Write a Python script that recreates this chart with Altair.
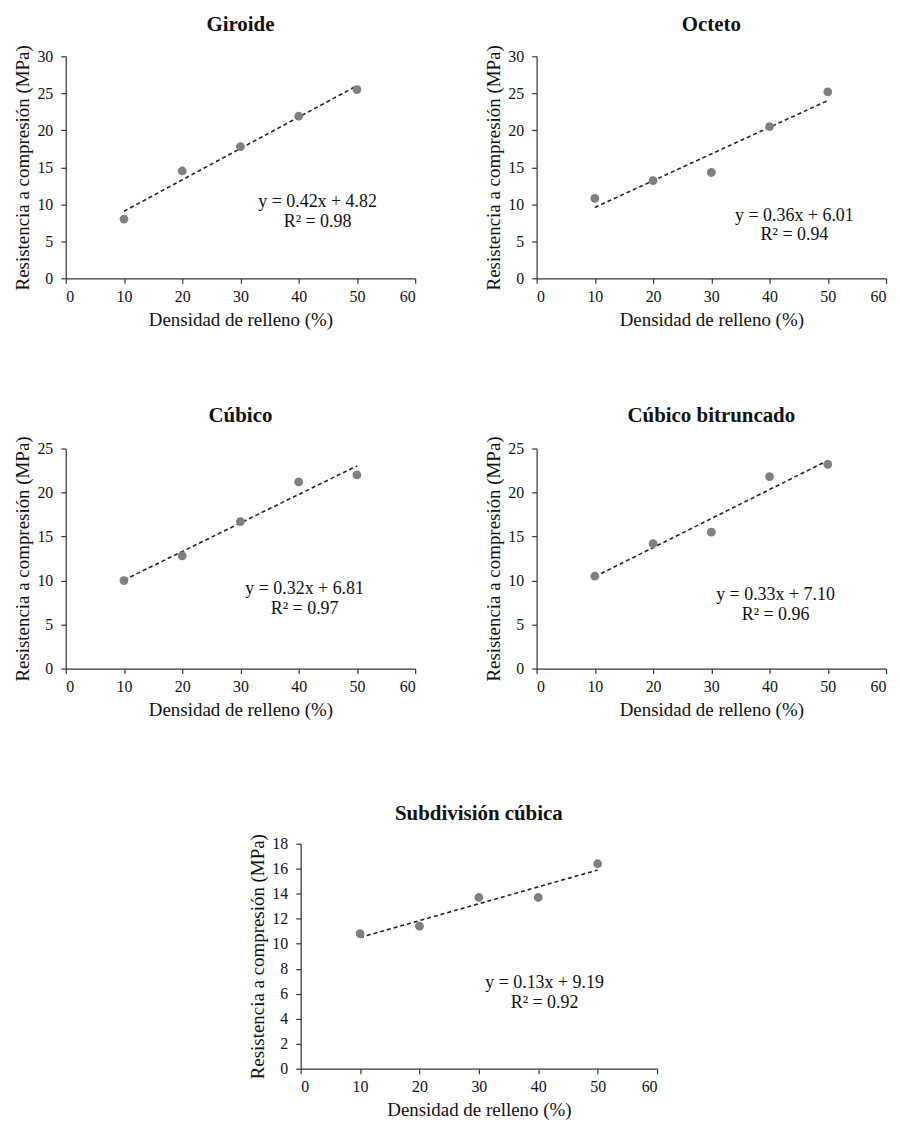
import altair as alt
import pandas as pd

# ---- data ----
density = [10, 20, 30, 40, 50]
giroide = [8.0, 14.5, 17.8, 21.9, 25.5]
octeto = [10.8, 13.2, 14.3, 20.5, 25.2]
cubico = [10.0, 12.8, 16.7, 21.2, 22.0]
bitruncado = [10.5, 14.2, 15.5, 21.8, 23.2]
subdivision = [10.8, 11.4, 13.7, 13.7, 16.4]

titles = ["Giroide", "Octeto", "Cúbico", "Cúbico bitruncado", "Subdivisión cúbica"]
equations = ["y = 0.42x + 4.82", "y = 0.36x + 6.01", "y = 0.32x + 6.81",
             "y = 0.33x + 7.10", "y = 0.13x + 9.19"]
r2_labels = ["R² = 0.98", "R² = 0.94", "R² = 0.97", "R² = 0.96", "R² = 0.92"]
y_max = [30, 30, 25, 25, 18]
y_step = [5, 5, 5, 5, 2]
x_ticks = [0, 10, 20, 30, 40, 50, 60]

# annotation placement (pixels inside plot area)
ann_x = [253, 259, 240, 240, 245]
ann_y = [146, 160, 141, 147, 140]

series = [giroide, octeto, cubico, bitruncado, subdivision]

FONT = "Liberation Serif"
W, H = 351, 223


def panel(i, h=H, w=W):
    df = pd.DataFrame({"x": density, "y": series[i]})
    base = alt.Chart(df)
    yticks = list(range(0, y_max[i] + 1, y_step[i]))
    xenc = alt.X("x:Q", scale=alt.Scale(domain=[0, 60], nice=False),
                 axis=alt.Axis(values=x_ticks, title="Densidad de relleno (%)",
                               labelOverlap=False))
    yenc = alt.Y("y:Q", scale=alt.Scale(domain=[0, y_max[i]], nice=False),
                 axis=alt.Axis(values=yticks, title="Resistencia a compresión (MPa)",
                               labelOverlap=False, tickCount=len(yticks)))
    trend = base.transform_regression("x", "y", extent=[10, 50]).mark_line(
        color="#222222", strokeDash=[4, 3], strokeWidth=1.6
    ).encode(x=xenc, y=yenc)
    pts = base.mark_circle(size=78, color="#808080", opacity=1).encode(x=xenc, y=yenc)
    tdf = pd.DataFrame({"eq": [equations[i]], "r2": [r2_labels[i]]})
    t1 = alt.Chart(tdf).mark_text(font=FONT, fontSize=18, color="#111111", align="center",
                                  baseline="middle").encode(
        x=alt.value(ann_x[i]), y=alt.value(ann_y[i]), text="eq:N")
    t2 = alt.Chart(tdf).mark_text(font=FONT, fontSize=18, color="#111111", align="center",
                                  baseline="middle").encode(
        x=alt.value(ann_x[i]), y=alt.value(ann_y[i] + 20), text="r2:N")
    return alt.layer(trend, pts, t1, t2).properties(
        width=w, height=h,
        title=alt.TitleParams(titles[i], font=FONT, fontSize=21, fontWeight="bold",
                              color="#111111", offset=10, anchor="middle"))


spacer = alt.Chart(pd.DataFrame({"s": [0]})).mark_point(opacity=0).encode(
    x=alt.value(0), y=alt.value(0)).properties(width=1, height=1)

row1 = alt.hconcat(panel(0), panel(1), spacing=68)
row2 = alt.hconcat(panel(2, h=221), panel(3, h=221), spacing=68)
row3 = alt.hconcat(spacer, panel(4, h=226, w=358), spacing=180)
top = alt.vconcat(row1, row2, spacing=76)
chart = alt.vconcat(top, row3, spacing=83).properties(
    padding={"left": 5, "top": 3, "right": 5, "bottom": 0}
).configure_view(
    stroke=None
).configure_axis(
    grid=False, labelFont=FONT, titleFont=FONT, labelFontSize=16, titleFontSize=19,
    titleFontWeight="normal", labelColor="#111111", titleColor="#111111",
    domainColor="#333333", tickColor="#333333", tickSize=5, labelPadding=5,
    titlePadding=6, domainWidth=1.2, tickWidth=1.2, labelOverlap=False
).configure_axisY(labelPadding=8, titlePadding=4)

chart.save("out.html", embed_options={"renderer": "svg", "actions": False})
